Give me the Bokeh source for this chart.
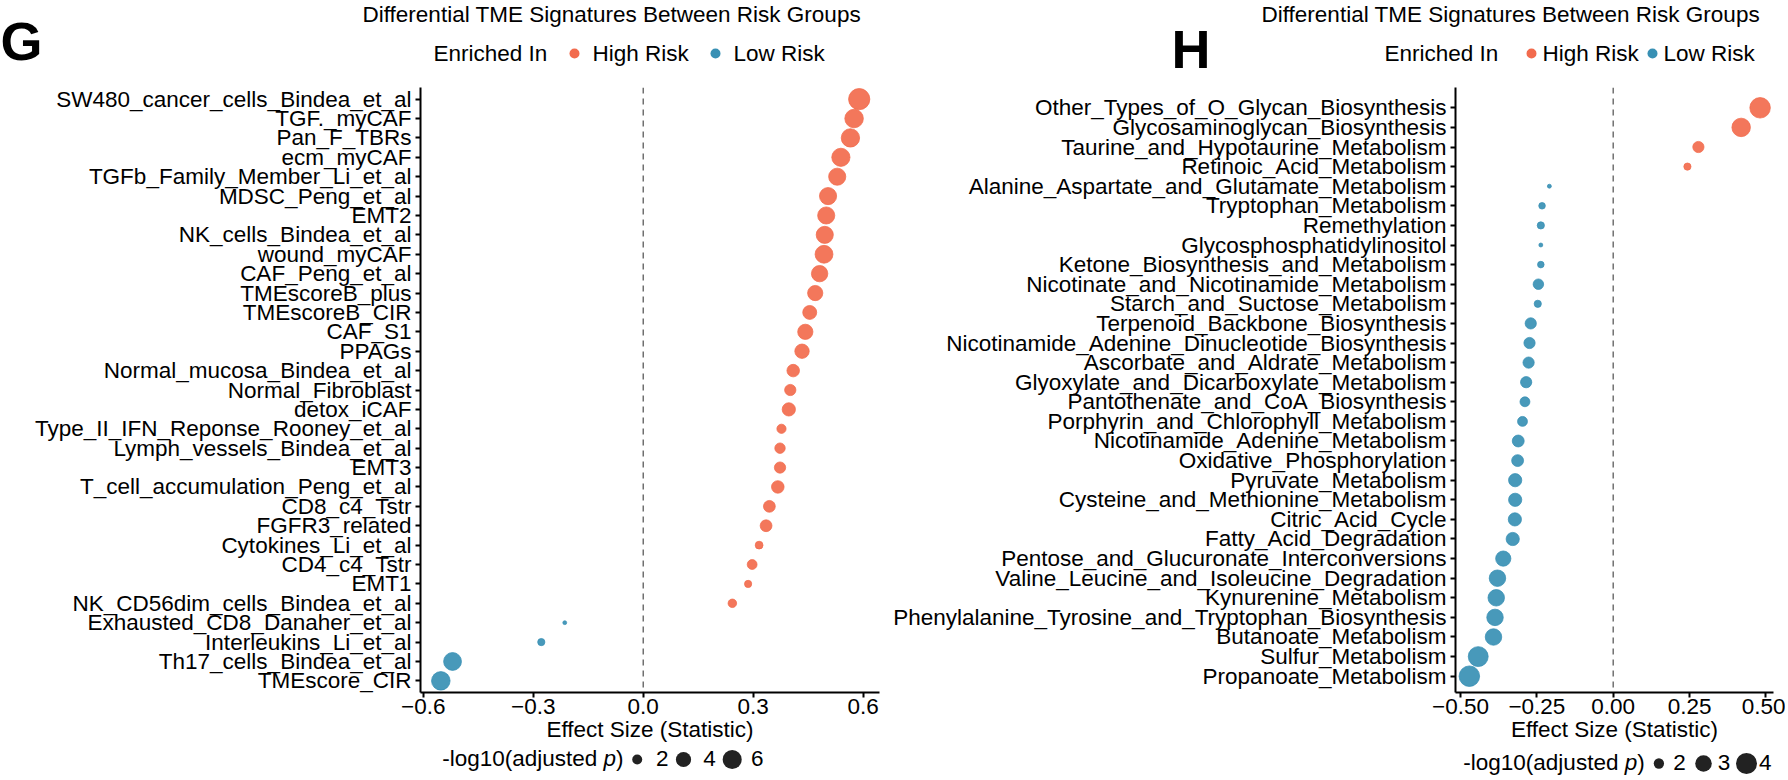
import math
from bokeh.plotting import figure
from bokeh.models import ColumnDataSource, Range1d, FixedTicker, CustomJSTickFormatter, Span
from bokeh.layouts import row, column
from bokeh.core.properties import value
from bokeh.embed import file_html
from bokeh.resources import INLINE

FONT = "Liberation Sans"
FS = "22.5px"
HIGH = "#F26B4D"
LOW = "#3890B4"

# ---------------- data: panel G ----------------
g_signatures = [
    "SW480_cancer_cells_Bindea_et_al", "TGF._myCAF", "Pan_F_TBRs", "ecm_myCAF",
    "TGFb_Family_Member_Li_et_al", "MDSC_Peng_et_al", "EMT2", "NK_cells_Bindea_et_al",
    "wound_myCAF", "CAF_Peng_et_al", "TMEscoreB_plus", "TMEscoreB_CIR", "CAF_S1", "PPAGs",
    "Normal_mucosa_Bindea_et_al", "Normal_Fibroblast", "detox_iCAF",
    "Type_II_IFN_Reponse_Rooney_et_al", "Lymph_vessels_Bindea_et_al", "EMT3",
    "T_cell_accumulation_Peng_et_al", "CD8_c4_Tstr", "FGFR3_related", "Cytokines_Li_et_al",
    "CD4_c4_Tstr", "EMT1", "NK_CD56dim_cells_Bindea_et_al", "Exhausted_CD8_Danaher_et_al",
    "Interleukins_Li_et_al", "Th17_cells_Bindea_et_al", "TMEscore_CIR",
]
g_effect = [0.589, 0.575, 0.565, 0.539, 0.529, 0.504, 0.499, 0.495, 0.493, 0.481, 0.469,
            0.454, 0.442, 0.433, 0.409, 0.401, 0.397, 0.377, 0.373, 0.373, 0.367, 0.344,
            0.335, 0.316, 0.297, 0.286, 0.243, -0.214, -0.278, -0.520, -0.552]
g_neglog10p = [7.9, 6.2, 6.1, 6.0, 5.4, 5.4, 5.4, 5.4, 5.8, 5.0, 4.4, 3.8, 4.4, 4.0, 3.2,
               2.7, 3.5, 2.0, 2.4, 2.7, 3.2, 2.9, 2.9, 1.6, 2.2, 1.45, 1.8, 0.8, 1.45, 5.8, 6.2]
g_size_breaks = [2, 4, 6]
g_x_ticks = [-0.6, -0.3, 0.0, 0.3, 0.6]

# ---------------- data: panel H ----------------
h_pathways = [
    "Other_Types_of_O_Glycan_Biosynthesis", "Glycosaminoglycan_Biosynthesis",
    "Taurine_and_Hypotaurine_Metabolism", "Retinoic_Acid_Metabolism",
    "Alanine_Aspartate_and_Glutamate_Metabolism", "Tryptophan_Metabolism", "Remethylation",
    "Glycosphosphatidylinositol", "Ketone_Biosynthesis_and_Metabolism",
    "Nicotinate_and_Nicotinamide_Metabolism", "Starch_and_Suctose_Metabolism",
    "Terpenoid_Backbone_Biosynthesis", "Nicotinamide_Adenine_Dinucleotide_Biosynthesis",
    "Ascorbate_and_Aldrate_Metabolism", "Glyoxylate_and_Dicarboxylate_Metabolism",
    "Pantothenate_and_CoA_Biosynthesis", "Porphyrin_and_Chlorophyll_Metabolism",
    "Nicotinamide_Adenine_Metabolism", "Oxidative_Phosphorylation", "Pyruvate_Metabolism",
    "Cysteine_and_Methionine_Metabolism", "Citric_Acid_Cycle", "Fatty_Acid_Degradation",
    "Pentose_and_Glucuronate_Interconversions", "Valine_Leucine_and_Isoleucine_Degradation",
    "Kynurenine_Metabolism", "Phenylalanine_Tyrosine_and_Tryptophan_Biosynthesis",
    "Butanoate_Metabolism", "Sulfur_Metabolism", "Propanoate_Metabolism",
]
h_effect = [0.481, 0.419, 0.279, 0.243, -0.209, -0.233, -0.237, -0.237, -0.237, -0.245,
            -0.247, -0.270, -0.274, -0.277, -0.285, -0.289, -0.297, -0.311, -0.313, -0.321,
            -0.321, -0.322, -0.329, -0.360, -0.379, -0.383, -0.387, -0.392, -0.442, -0.471]
h_neglog10p = [4.08, 3.59, 2.23, 1.75, 1.5, 1.69, 1.75, 1.5, 1.69, 2.13, 1.75, 2.23, 2.23,
               2.23, 2.23, 2.05, 2.05, 2.33, 2.33, 2.54, 2.54, 2.54, 2.54, 2.9, 3.15, 3.15,
               3.15, 3.15, 3.93, 4.08]
h_size_breaks = [2, 3, 4]
h_x_ticks = [-0.5, -0.25, 0.0, 0.25, 0.5]

groups = ["High Risk", "Low Risk"]
group_colors = [HIGH, LOW]
title_text = "Differential TME Signatures Between Risk Groups"
legend_title = "Enriched In"
size_title = "-log10(adjusted "
x_title = "Effect Size (Statistic)"


def area_scale(v_lo, d_lo, v_hi, d_hi):
    def f(v):
        a2 = d_lo ** 2 + (v - v_lo) / (v_hi - v_lo) * (d_hi ** 2 - d_lo ** 2)
        return math.sqrt(max(a2, 9.0))
    return f


g_size = area_scale(2, 10.0, 6, 19.0)
h_size = area_scale(2, 10.3, 4, 21.0)


def panel(names, effect, logp, size_fn, x_range, y_range, ticks, decimals,
          frame_w, b_left, b_right):
    n = len(names)
    ys = list(range(n, 0, -1))
    src = ColumnDataSource(dict(
        name=names, effect=effect, y=ys,
        size=[size_fn(v) - 0.8 for v in logp],
        color=[group_colors[0] if e > 0 else group_colors[1] for e in effect],
    ))
    p = figure(frame_width=frame_w, frame_height=605, title=None,
               x_range=Range1d(*x_range), y_range=Range1d(*y_range),
               min_border_left=b_left, min_border_top=3,
               min_border_bottom=51, min_border_right=b_right,
               output_backend="svg", toolbar_location=None,
               background_fill_color="white", border_fill_color="white")
    p.outline_line_color = None
    p.grid.visible = False
    p.add_layout(Span(location=0, dimension="height", line_color="#666666",
                      line_width=1.4, line_dash="6 5"))
    p.scatter("effect", "y", size="size", fill_color="color", line_color="color",
              fill_alpha=0.92, line_alpha=0.95, line_width=0.8, source=src)
    for ax in (p.xaxis[0], p.yaxis[0]):
        ax.axis_line_width = 2
        ax.axis_line_color = "black"
        ax.major_tick_line_width = 2
        ax.major_tick_line_color = "black"
        ax.major_tick_out = 5
        ax.major_tick_in = 0
        ax.minor_tick_line_color = None
        ax.major_label_text_font = FONT
        ax.major_label_text_font_size = FS
        ax.major_label_text_color = "black"
    ya = p.yaxis[0]
    ya.ticker = FixedTicker(ticks=ys)
    ya.formatter = CustomJSTickFormatter(args=dict(names=names, n=n),
                                         code="return names[n - Math.round(tick)];")
    ya.major_label_standoff = 4
    xa = p.xaxis[0]
    xa.ticker = FixedTicker(ticks=ticks)
    xa.formatter = CustomJSTickFormatter(
        args=dict(d=decimals),
        code="const s = Math.abs(tick).toFixed(d); return (tick < -1e-9 ? '\\u2212' : '') + s;")
    xa.major_label_standoff = 1
    xa.axis_label = x_title
    xa.axis_label_text_font = FONT
    xa.axis_label_text_font_size = FS
    xa.axis_label_text_font_style = "normal"
    xa.axis_label_text_color = "black"
    xa.axis_label_standoff = 0
    return p


pG = panel(g_signatures, g_effect, g_neglog10p, g_size, (-0.6074, 0.6443), (0.4, 31.6),
           g_x_ticks, 1, 459, 420, 3)
pH = panel(h_pathways, h_effect, h_neglog10p, h_size, (-0.5164, 0.5249), (0.168, 31.036),
           h_x_ticks, 2, 318, 573, 12)


def strip(y0, y1, x0=0, x1=1785):
    f = figure(width=x1 - x0, height=y1 - y0, x_range=Range1d(x0, x1), y_range=Range1d(y1, y0),
               min_border=0, title=None, output_backend="svg", toolbar_location=None,
               x_axis_location=None, y_axis_location=None,
               background_fill_color="white", border_fill_color="white")
    f.outline_line_color = None
    f.grid.visible = False
    return f


def txt(f, xs, ys, texts, size=FS, style="normal", align="left"):
    f.text(x=xs, y=ys, text=texts, text_font=value(FONT), text_font_size=value(size),
           text_font_style=style, text_color="black", text_baseline="middle",
           text_align=align)


# ---- top strip: tags, titles, colour legends (page pixel coordinates) ----
top = strip(0, 84)
txt(top, [0, 1171], [40, 48], ["G", "H"], size="54px", style="bold")
txt(top, [362, 1261], [13.5, 13.5], [title_text, title_text])
txt(top, [433, 592, 733, 1384, 1542, 1663], [53] * 6,
    [legend_title, groups[0], groups[1], legend_title, groups[0], groups[1]])
top.scatter(x=[574, 715, 1531, 1652], y=[53] * 4, size=10,
            color=[group_colors[0], group_colors[1], group_colors[0], group_colors[1]],
            line_width=0)

# ---- bottom strip: size legends ----
bot = strip(743, 778)
em = 22.5
for x0, cy, breaks, fn, dot_x, lab_x in [
    (441.7, 757, g_size_breaks, g_size, [636.7, 683.0, 731.7], [661.7, 709.0, 756.7]),
    (1462.8, 761, h_size_breaks, h_size, [1658.4, 1703.0, 1746.0], [1679.0, 1723.6, 1764.7]),
]:
    px = x0 + 7.17 * em
    txt(bot, [x0, px + 0.556 * em], [cy, cy], [size_title, ")"])
    txt(bot, [px], [cy], ["p"], style="italic")
    bot.scatter(x=dot_x, y=[cy + 1] * 3, size=[fn(b) for b in breaks], color="#222222",
                line_width=0)
    txt(bot, lab_x, [cy] * 3, [str(b) for b in breaks], align="center")

layout = column(top, row(pG, pH, spacing=0), bot, spacing=0)
open("out.html", "w", encoding="utf-8").write(file_html(layout, INLINE))
